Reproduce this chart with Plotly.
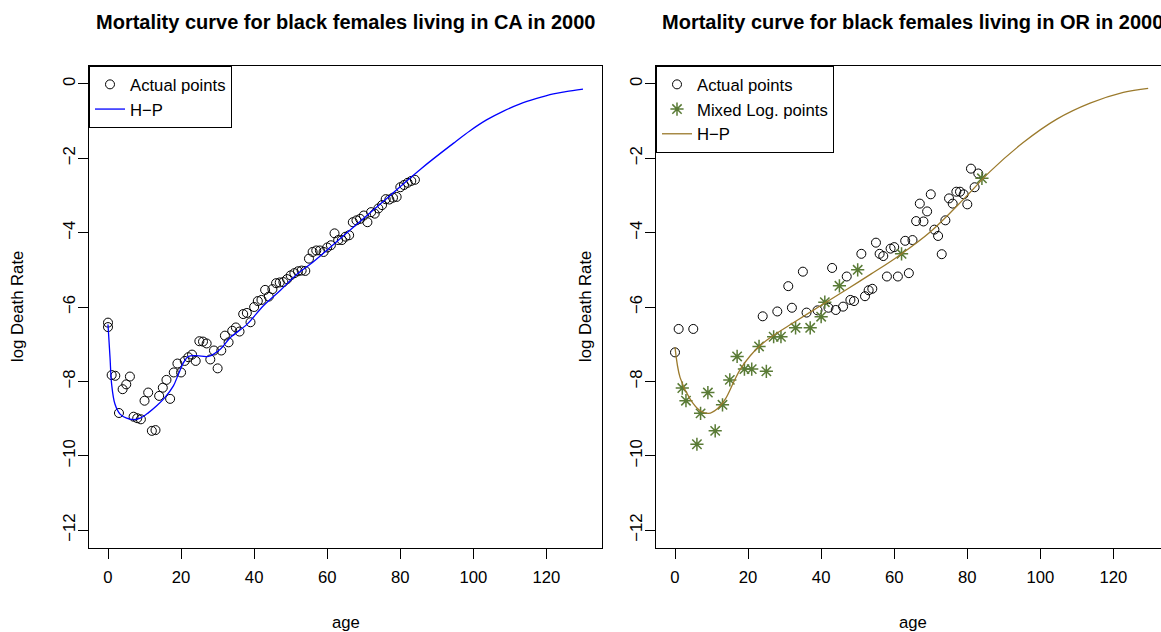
import plotly.graph_objects as go

# ---------------- data ----------------
# California, black females, 2000: observed log death rates by single year of age
ca_age = [0, 0] + list(range(1, 85))
ca_lograte = [
    -6.42, -6.54,
    -7.83, -7.85, -8.85, -8.21, -8.08, -7.87, -8.95, -8.99, -9.02, -8.52,
    -8.30, -9.33, -9.31, -8.39, -8.17, -7.96, -8.47, -7.76, -7.52, -7.76,
    -7.45, -7.35, -7.28, -7.45, -6.92, -6.93, -6.98, -7.41, -7.17, -7.65,
    -7.17, -6.77, -6.95, -6.64, -6.55, -6.66, -6.19, -6.16, -6.41, -6.00,
    -5.84, -5.81, -5.54, -5.72, -5.52, -5.36, -5.34, -5.33, -5.25, -5.15,
    -5.09, -5.04, -5.02, -5.03, -4.70, -4.52, -4.48, -4.48, -4.52, -4.40,
    -4.34, -4.02, -4.20, -4.20, -4.11, -4.07, -3.72, -3.67, -3.63, -3.54,
    -3.72, -3.45, -3.49, -3.35, -3.26, -3.10, -3.11, -3.06, -3.04, -2.78,
    -2.72, -2.66, -2.61, -2.58,
]

# Heligman-Pollard fitted curve for California
ca_hp_age = [0, 0.55, 1, 1.9, 3.3, 5.1, 7, 8.8, 11.1, 13.4, 15.6, 17.9, 19.3,
             20.7, 22, 24.3, 27.5, 30.8, 33.5, 38.1, 42.6, 47.2, 51.8, 55.5,
             65, 75, 85.7, 94.5, 99.1, 103.6, 108.1, 112.8, 117.1, 121.9,
             125.3, 130]
ca_hp_val = [-6.47, -7.35, -8.08, -8.61, -8.88, -8.99, -9.03, -8.99, -8.84,
             -8.65, -8.43, -8.12, -7.80, -7.49, -7.33, -7.31, -7.33, -7.13,
             -6.82, -6.46, -5.96, -5.55, -5.11, -4.84, -4.04, -3.19, -2.28,
             -1.60, -1.26, -0.97, -0.74, -0.54, -0.40, -0.27, -0.21, -0.14]

# Oregon, black females, 2000: observed log death rates (ages with deaths)
or_age = [0, 1, 5, 24, 28, 31, 32, 35, 36, 39, 42, 43, 44, 46, 47, 48, 49,
          51, 52, 53, 54, 55, 56, 57, 58, 59, 60, 61, 63, 64, 65, 66, 67, 68,
          69, 70, 71, 72, 73, 74, 75, 76, 77, 78, 79, 80, 81, 82, 83]
or_lograte = [-7.22, -6.59, -6.59, -6.25, -6.12, -5.44, -6.02, -5.05, -6.15,
              -6.09, -6.02, -4.95, -6.08, -5.99, -5.18, -5.81, -5.84, -4.57,
              -5.71, -5.55, -5.51, -4.27, -4.57, -4.63, -5.18, -4.43, -4.39,
              -5.18, -4.22, -5.09, -4.20, -3.69, -3.22, -3.70, -3.43, -2.97,
              -3.92, -4.09, -4.58, -3.67, -3.08, -3.22, -2.90, -2.90, -2.97,
              -3.24, -2.28, -2.78, -2.41]

# Oregon, mixed logistic estimates for the remaining ages
or_mixed_age = [2, 3, 6, 7, 9, 11, 13, 15, 17, 19, 21, 23, 25, 27, 29, 33,
                37, 40, 41, 45, 50, 62, 84]
or_mixed_val = [-8.18, -8.52, -9.69, -8.86, -8.30, -9.33, -8.63, -7.96, -7.33,
                -7.67, -7.67, -7.06, -7.73, -6.80, -6.80, -6.56, -6.56, -6.26,
                -5.87, -5.43, -5.00, -4.57, -2.54]

# Heligman-Pollard fitted curve for Oregon
or_hp_age = [0, 1.4, 4.1, 6.9, 9.2, 11.5, 13.8, 16, 17.9, 20.6, 23.4, 26.1,
             32.6, 39.9, 47.3, 53.7, 61, 70, 79, 86.2, 95.3, 104.5, 113.6,
             122.7, 129.5]
or_hp_val = [-7.08, -7.90, -8.47, -8.79, -8.86, -8.74, -8.47, -8.03, -7.67,
             -7.31, -7.03, -6.82, -6.41, -5.96, -5.51, -5.11, -4.64, -3.97,
             -3.10, -2.36, -1.58, -0.95, -0.52, -0.23, -0.12]

x_ticks = [0, 20, 40, 60, 80, 100, 120]
y_ticks = [-12, -10, -8, -6, -4, -2, 0]

# ---------------- layout helpers ----------------
W, H = 1161, 632
ML, MT, MB = 89, 66, 84
PW = W - ML
PH = H - MT - MB
FONT = "Liberation Sans, Arial, Helvetica, sans-serif"
PX_PER_YEAR = 513 / 140.4


def px(x):
    return (x - ML) / PW


def py(y):
    return (MT + PH - y) / PH


HP_GOLD = "#9B7A2C"
STAR_GREEN = "#5A7B36"

fig = go.Figure()

# left panel: California
fig.add_trace(go.Scatter(
    x=ca_age, y=ca_lograte, mode="markers", name="Actual points",
    marker=dict(symbol="circle-open", size=9, color="black", line=dict(width=1)),
    xaxis="x", yaxis="y", legend="legend",
))
fig.add_trace(go.Scatter(
    x=ca_hp_age, y=ca_hp_val, mode="lines", name="H\u2212P",
    line=dict(color="#0000FF", width=1.3, shape="spline", smoothing=1.0),
    xaxis="x", yaxis="y", legend="legend",
))

# right panel: Oregon
fig.add_trace(go.Scatter(
    x=or_age, y=or_lograte, mode="markers", name="Actual points",
    marker=dict(symbol="circle-open", size=9, color="black", line=dict(width=1)),
    xaxis="x2", yaxis="y2", legend="legend2",
))
fig.add_trace(go.Scatter(
    x=or_mixed_age, y=or_mixed_val, mode="markers", name="Mixed Log. points",
    marker=dict(symbol="asterisk-open", size=11, color=STAR_GREEN,
                line=dict(width=1.5, color=STAR_GREEN)),
    xaxis="x2", yaxis="y2", legend="legend2",
))
fig.add_trace(go.Scatter(
    x=or_hp_age, y=or_hp_val, mode="lines", name="H\u2212P",
    line=dict(color=HP_GOLD, width=1.3, shape="spline", smoothing=1.0),
    xaxis="x2", yaxis="y2", legend="legend2",
))

axis_common = dict(
    showgrid=False, zeroline=False, showline=True, linecolor="black",
    linewidth=1, ticks="outside", ticklen=10, tickwidth=1, tickcolor="black",
    tickfont=dict(family=FONT, size=16.7, color="black"),
)

right_span = (W - 656) / PX_PER_YEAR

fig.update_layout(
    width=W, height=H,
    margin=dict(l=ML, r=0, t=MT, b=MB, pad=0),
    paper_bgcolor="white", plot_bgcolor="white",
    font=dict(family=FONT, size=16.7, color="black"),
    xaxis=dict(domain=[0, 513 / PW], range=[-5.2, 135.2], tickvals=x_ticks,
               mirror=True, anchor="y", ticklabelstandoff=4, **axis_common),
    yaxis=dict(domain=[0, 1], range=[-12.48, 0.48], tickvals=y_ticks,
               tickangle=-90, mirror=True, anchor="x", ticklabelstandoff=-4,
               **axis_common),
    xaxis2=dict(domain=[567 / PW, 1], range=[-5.2, -5.2 + right_span],
                tickvals=x_ticks, mirror=True, anchor="y2",
                ticklabelstandoff=4, **axis_common),
    yaxis2=dict(domain=[0, 1], range=[-12.48, 0.48], tickvals=y_ticks,
                tickangle=-90, mirror=False, anchor="x2",
                ticklabelstandoff=-4, **axis_common),
    legend=dict(x=0, y=1, xref="paper", yref="paper", xanchor="left",
                yanchor="top", bordercolor="black", borderwidth=1,
                bgcolor="white", font=dict(family=FONT, size=16.7),
                tracegroupgap=0),
    legend2=dict(x=567 / PW, y=1, xref="paper", yref="paper",
                 xanchor="left", yanchor="top", bordercolor="black",
                 borderwidth=1, bgcolor="white",
                 font=dict(family=FONT, size=16.7), tracegroupgap=0),
    showlegend=True,
)

titles = [
    ("<b>Mortality curve for black females living in CA in 2000</b>", 345.5),
    ("<b>Mortality curve for black females living in OR in 2000</b>", 912.5),
]
for text, cx in titles:
    fig.add_annotation(text=text, x=px(cx), y=py(22), xref="paper",
                       yref="paper", showarrow=False, xanchor="center",
                       yanchor="middle",
                       font=dict(family=FONT, size=20, color="black"))

for cx in (345.5, 912.5):
    fig.add_annotation(text="age", x=px(cx), y=py(622), xref="paper",
                       yref="paper", showarrow=False, xanchor="center",
                       yanchor="middle",
                       font=dict(family=FONT, size=16.7, color="black"))

for cx in (17, 585):
    fig.add_annotation(text="log Death Rate", x=px(cx), y=py(307),
                       xref="paper", yref="paper", showarrow=False,
                       textangle=-90, xanchor="center", yanchor="middle",
                       font=dict(family=FONT, size=16.7, color="black"))

fig.write_html("out.html")
